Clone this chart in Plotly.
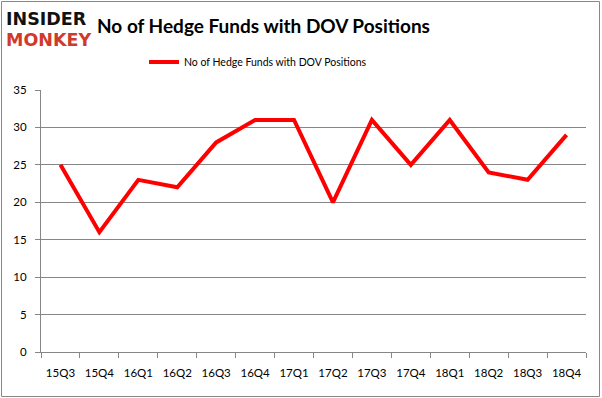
import plotly.graph_objects as go

quarters = ["15Q3", "15Q4", "16Q1", "16Q2", "16Q3", "16Q4", "17Q1",
            "17Q2", "17Q3", "17Q4", "18Q1", "18Q2", "18Q3", "18Q4"]
funds = [25, 16, 23, 22, 28, 31, 31, 20, 31, 25, 31, 24, 23, 29]
series_name = "No of Hedge Funds with DOV Positions"
title_text = "No of Hedge Funds with DOV Positions"

W, H = 602, 398
L, R, T, B = 41, 16, 90, 46
pw, ph = W - L - R, H - T - B

def px_x(x):
    return (x - L) / pw

def px_y(y):
    return (H - B - y) / ph

FONT = "Lato, Liberation Sans, Arial, sans-serif"

fig = go.Figure()
fig.add_trace(go.Scatter(
    x=quarters, y=funds, mode="lines", name=series_name,
    line=dict(color="#ff0000", width=4),
))

fig.update_layout(
    width=W, height=H,
    margin=dict(l=L, r=R, t=T, b=B, autoexpand=False),
    paper_bgcolor="white", plot_bgcolor="white",
    font=dict(family=FONT, size=11, color="#000000"),
    showlegend=True,
    legend=dict(orientation="h", x=px_x(144), xanchor="left",
                y=px_y(62), yanchor="middle", font=dict(size=10.5),
                bgcolor="rgba(0,0,0,0)"),
    xaxis=dict(
        type="category", tickson="boundaries", ticks="outside", ticklen=5,
        tickcolor="#868686", showline=True, linecolor="#868686", linewidth=1,
        showgrid=False, ticklabelstandoff=10, range=[-0.5, 13.5], tickangle=0,
        tickfont=dict(size=11.5),
    ),
    yaxis=dict(
        range=[0, 35], dtick=5, ticks="outside", ticklen=5, tickcolor="#868686",
        showline=True, linecolor="#868686", linewidth=1,
        showgrid=True, gridcolor="#868686", gridwidth=1, zeroline=False,
        ticklabelstandoff=6, tickfont=dict(size=11.5),
    ),
    shapes=[dict(
        type="rect", xref="paper", yref="paper",
        x0=px_x(1.5), x1=px_x(599.5), y0=px_y(396.5), y1=px_y(1.5),
        line=dict(color="#888888", width=1), fillcolor="rgba(0,0,0,0)", layer="below",
    )],
    annotations=[
        dict(text="<b>" + title_text + "</b>", xref="paper", yref="paper",
             x=px_x(95), y=px_y(25), xanchor="left", yanchor="middle",
             showarrow=False, font=dict(size=19, color="#000000", family=FONT)),
        dict(text="<b>INSIDER</b>", xref="paper", yref="paper",
             x=px_x(4), y=px_y(19), xanchor="left", yanchor="middle",
             showarrow=False, font=dict(size=17.5, color="#111111",
                                        family="DejaVu Sans, sans-serif")),
        dict(text="<b>MONKEY</b>", xref="paper", yref="paper",
             x=px_x(4), y=px_y(40), xanchor="left", yanchor="middle",
             showarrow=False, font=dict(size=17.5, color="#d0392b",
                                        family="DejaVu Sans, sans-serif")),
    ],
)

fig.write_html("out.html", config={"displayModeBar": False},
               post_script="document.body.style.margin='0';")
